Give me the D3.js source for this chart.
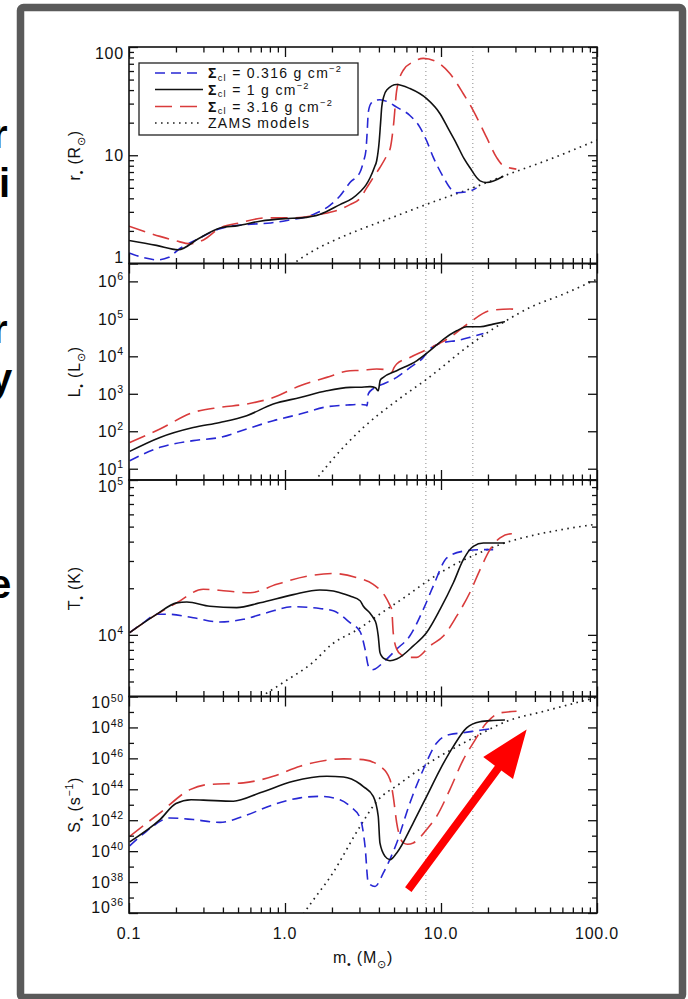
<!DOCTYPE html>
<html>
<head>
<meta charset="utf-8">
<title>Protostellar evolution</title>
<script src="https://cdn.jsdelivr.net/npm/d3@7/dist/d3.min.js"></script>
<style>
  body { margin: 0; background: #fff; }
  svg { display: block; }
  text { font-family: "Liberation Sans", Arial, Helvetica, sans-serif; white-space: pre; }
</style>
</head>
<body>
<script>
// x axis: protostellar mass (M_sun)
const massDomain = [0.1, 100];
const massTicks = [0.1, 1, 10, 100];
const massTickLabels = ["0.1", "1.0", "10.0", "100.0"];
const markerMasses = [8, 16];

// legend
const sigmaLabels = ["0.316", "1", "3.16"];
const zamsLabel = "ZAMS models";

// panel 1: radius (R_sun)
const rDomain = [1, 100];
const rTicks = [1, 10, 100];
const rTickLabels = ["1", "10", "100"];
const rLowM  = [0.1, 0.125, 0.151, 0.18, 0.207, 0.28, 0.383, 0.569, 0.81, 1.03, 1.52, 1.94, 2.25, 2.61, 3.03, 3.2, 3.3, 3.36, 3.42, 3.55, 3.78, 4.06, 4.59, 5.2, 6.32, 7.33, 8.09, 8.93, 10.4, 11.4, 12.6, 15.3, 16.9];
const rLowV  = [1.25, 1.13, 1.08, 1.14, 1.34, 1.7, 2.1, 2.29, 2.37, 2.5, 2.84, 3.45, 4.2, 5.6, 7.0, 9.0, 11.0, 16.0, 25.0, 30.0, 32.1, 32.6, 31.0, 27.8, 23.3, 18.1, 13.6, 9.55, 6.22, 5.0, 4.51, 4.67, 5.0];
const rMidM  = [0.1, 0.15, 0.207, 0.28, 0.383, 0.5, 0.69, 1.0, 1.27, 1.67, 2.25, 2.7, 3.03, 3.3, 3.51, 3.75, 3.87, 4.02, 4.1, 4.17, 4.3, 4.49, 5.2, 6.32, 8.09, 9.86, 11.2, 12.6, 14.0, 15.3, 17.8, 19.6, 25.1];
const rMidV  = [1.63, 1.47, 1.34, 1.7, 2.13, 2.24, 2.46, 2.6, 2.64, 2.84, 3.5, 4.0, 4.6, 5.3, 6.2, 7.8, 8.9, 13.6, 20, 27.9, 35, 40, 45, 41.3, 33.3, 24.2, 17.3, 12.7, 9.4, 7.7, 5.8, 5.6, 6.4];
const rHighM = [0.1, 0.158, 0.2, 0.246, 0.3, 0.383, 0.51, 0.76, 1.13, 1.67, 2.25, 2.61, 3.03, 3.34, 3.7, 4.06, 4.5, 4.74, 4.97, 5.2, 5.73, 6.65, 7.7, 9.34, 11.4, 13.9, 16.1, 19.6, 22.7, 25.1, 30.4];
const rHighV = [2.21, 1.78, 1.62, 1.52, 1.65, 2.13, 2.37, 2.64, 2.64, 2.84, 3.16, 3.5, 4.0, 5.0, 6.3, 7.7, 10, 11.8, 19.5, 39.8, 61, 73, 78.5, 73, 56.9, 37, 25.9, 14.6, 9.55, 8.0, 7.45];
const rZamsM = [1.1, 1.5, 2, 3, 5, 8, 16, 25, 50, 100];
const rZamsV = [0.97, 1.3, 1.6, 2.05, 2.7, 3.5, 5.0, 6.4, 9.2, 13.8];

// panel 2: luminosity (L_sun)
const lDomain = [5, 3e6];
const lTicks = [1e1, 1e2, 1e3, 1e4, 1e5, 1e6];
const lTickLabels = ["10^1", "10^2", "10^3", "10^4", "10^5", "10^6"];
const lLowM  = [0.101, 0.158, 0.258, 0.383, 0.568, 0.841, 1.25, 1.85, 2.5, 3.03, 3.3, 3.36, 3.42, 3.7, 4.27, 5.2, 6.32, 7.7, 8.49, 10.4, 12.6, 15.3, 18.7];
const lLowV  = [16.4, 37.2, 56.2, 68.5, 115, 191, 288, 450, 500, 520, 501, 480, 1000, 1400, 1820, 2740, 5010, 9330, 15700, 23400, 26300, 32000, 40700];
const lMidM  = [0.101, 0.158, 0.258, 0.383, 0.568, 0.841, 1.25, 1.85, 2.61, 3.03, 3.51, 3.8, 3.96, 4.08, 4.27, 5.2, 6.98, 8.49, 10.4, 12.6, 14.6, 17.8, 21.6, 25.7];
const lMidV  = [29, 68.5, 126, 172, 260, 533, 794, 1200, 1480, 1500, 1550, 1450, 1200, 2300, 2740, 4130, 7590, 14100, 28800, 47900, 61700, 61700, 72400, 84100];
const lHighM = [0.101, 0.158, 0.258, 0.383, 0.568, 0.841, 1.25, 1.85, 2.61, 3.03, 3.87, 4.5, 4.83, 5.0, 5.2, 6.32, 8.49, 11.4, 15.3, 20.6, 27.7, 32.1];
const lHighV = [50, 115, 318, 434, 533, 794, 1640, 2740, 4130, 4200, 4570, 4370, 3720, 5000, 6240, 9330, 16600, 32000, 80500, 165000, 183000, 172000];
const lZamsM = [1.55, 1.94, 3.18, 5.2, 8.09, 16.1, 25.1, 37.3, 61, 100];
const lZamsV = [4.6, 14.7, 126, 653, 2450, 23400, 80500, 202000, 457000, 1150000];

// panel 3: effective temperature (K)
const tDomain = [4000, 1e5];
const tTicks = [1e4, 1e5];
const tTickLabels = ["10^4", "10^5"];
const tLowM  = [0.101, 0.124, 0.151, 0.175, 0.258, 0.383, 0.541, 0.764, 1.13, 1.67, 2.04, 2.61, 3.03, 3.26, 3.42, 3.6, 3.78, 4.27, 5.2, 6.32, 7.7, 8.93, 10.9, 13.9, 17.8, 21.6];
const tLowV  = [10350, 12000, 13600, 13600, 12900, 12100, 12600, 13900, 15200, 14800, 14300, 12000, 10500, 8090, 6310, 5950, 6030, 6650, 8090, 9860, 14600, 20700, 31400, 34700, 35500, 35500];
const tMidM  = [0.101, 0.151, 0.202, 0.235, 0.33, 0.49, 0.692, 1.13, 1.67, 2.04, 2.25, 2.61, 3.03, 3.18, 3.51, 3.68, 3.85, 3.96, 4.06, 4.2, 4.38, 4.71, 5.2, 6.64, 8.09, 9.86, 12.0, 13.9, 16.1, 18.7, 22.7, 25.7];
const tMidV  = [10350, 13600, 16100, 16300, 15300, 15000, 16100, 18200, 19500, 19200, 18700, 17800, 16600, 15300, 13800, 12900, 11700, 9860, 7710, 7200, 6980, 6810, 6980, 8490, 10350, 14600, 21700, 30600, 37300, 39200, 39200, 39200];
const tHighM = [0.101, 0.151, 0.202, 0.299, 0.423, 0.597, 0.885, 1.38, 2.04, 2.88, 3.68, 4.38, 4.71, 4.83, 4.94, 5.2, 5.6, 6.02, 6.98, 8.49, 10.4, 12.6, 15.3, 17.8, 20.6, 23.9, 28.4, 30.5];
const tHighV = [10350, 13600, 16100, 19700, 19200, 18700, 21200, 23900, 24900, 23400, 21200, 17800, 15500, 14600, 10350, 8090, 7400, 7160, 7160, 8490, 9860, 13200, 18700, 26400, 35500, 42300, 45000, 44400];
const tZamsM = [0.7, 1.0, 1.5, 2.0, 3.0, 4.0, 6.0, 8.0, 12, 16, 25, 40, 60, 100];
const tZamsV = [3980, 5010, 6610, 8700, 11000, 13500, 17800, 21900, 28200, 32400, 38900, 44200, 47900, 51900];

// panel 4: ionizing photon rate (s^-1)
const sDomain = [1e36, 1e50];
const sTicks = [1e36, 1e38, 1e40, 1e42, 1e44, 1e46, 1e48, 1e50];
const sTickLabels = ["10^36", "10^38", "10^40", "10^42", "10^44", "10^46", "10^48", "10^50"];
const sMinorTicks = [1e37, 1e39, 1e41, 1e43, 1e45, 1e47, 1e49];
const sLowM  = [0.101, 0.13, 0.183, 0.258, 0.383, 0.541, 0.841, 1.25, 1.67, 2.25, 2.61, 3.03, 3.26, 3.42, 3.78, 4.27, 5.2, 6.32, 7.7, 9.38, 11.4, 13.9, 17.8, 20.6];
const sLowV  = [2.2e40, 2.0e41, 1.4e42, 1.1e42, 7.2e41, 1.8e42, 1.0e43, 2.8e43, 3.5e43, 2.1e43, 8.0e42, 1.4e42, 2.0e40, 8.7e37, 5.2e37, 3.9e38, 3.4e40, 1.3e43, 1.9e45, 1.0e47, 3.5e47, 4.5e47, 6.6e47, 8.1e47];
const sMidM  = [0.101, 0.158, 0.2, 0.25, 0.3, 0.467, 0.692, 1.13, 1.85, 2.37, 3.03, 3.18, 3.68, 3.96, 4.06, 4.38, 4.71, 5.2, 6.64, 8.09, 9.86, 12.0, 14.6, 17.8, 21.6, 25.7];
const sMidV  = [4.0e40, 1.1e42, 1.2e43, 2.1e43, 2.0e43, 1.7e43, 5.9e43, 3.3e44, 6.9e44, 6.3e44, 2.2e44, 1.5e44, 3.5e43, 1.8e42, 3.4e40, 4.6e39, 2.8e39, 7.6e39, 6.8e41, 3.5e43, 1.9e45, 6.0e46, 9.3e47, 2.3e48, 2.8e48, 3.0e48];
const sHighM = [0.101, 0.158, 0.246, 0.315, 0.541, 0.841, 1.25, 1.85, 2.37, 3.18, 4.06, 4.71, 4.94, 5.2, 5.73, 6.1, 6.64, 8.09, 9.38, 11.4, 13.9, 16.1, 19.6, 23.9, 30.5];
const sHighV = [9.1e40, 3.0e42, 9.5e43, 2.0e44, 2.6e44, 6.9e44, 3.1e45, 7.6e45, 9.3e45, 8.3e45, 3.1e45, 4.3e44, 3.5e43, 6.8e41, 3.4e40, 2.8e40, 3.4e40, 2.5e41, 1.8e42, 9.5e43, 8.3e45, 1.0e47, 2.0e48, 8.7e48, 1.1e49];
const sZamsM = [1.25, 1.35, 2.03, 3.03, 3.87, 5.5, 8.09, 16.1, 26.4, 45.6, 100];
const sZamsV = [4e35, 1.3e36, 4e38, 4e41, 1.6e43, 2.5e44, 4e45, 2.1e47, 2.5e48, 1.1e49, 8.9e49];

// red annotation arrow, in (mass, S) units
const arrowFrom = [6.17, 3.2e37];
const arrowTo = [35.4, 7.4e47];

const W = 688, H = 999;
const plot = {left: 129, right: 597, top: 47, bottom: 913};
const panelH = (plot.bottom - plot.top) / 4;

const styles = {
  low:  {color: "#2727d4", dash: "10,6"},
  mid:  {color: "#111", dash: null},
  high: {color: "#d93b3b", dash: "17,8"},
  zams: {color: "#222", dash: "1.6,4.4"}
};

const panels = [
  {domain: rDomain, major: rTicks, labels: rTickLabels, minor: decadeMinors(rDomain),
   title: [{t: "r"}, {t: "•", sub: 1}, {t: " (R"}, {t: "⊙", sub: 1}, {t: ")"}],
   series: [["zams", rZamsM, rZamsV], ["low", rLowM, rLowV], ["high", rHighM, rHighV], ["mid", rMidM, rMidV]]},
  {domain: lDomain, major: lTicks, labels: lTickLabels, minor: [],
   title: [{t: "L"}, {t: "•", sub: 1}, {t: " (L"}, {t: "⊙", sub: 1}, {t: ")"}],
   series: [["zams", lZamsM, lZamsV], ["low", lLowM, lLowV], ["high", lHighM, lHighV], ["mid", lMidM, lMidV]]},
  {domain: tDomain, major: tTicks, labels: tTickLabels, minor: decadeMinors(tDomain),
   title: [{t: "T"}, {t: "•", sub: 1}, {t: " (K)"}],
   series: [["zams", tZamsM, tZamsV], ["low", tLowM, tLowV], ["high", tHighM, tHighV], ["mid", tMidM, tMidV]]},
  {domain: sDomain, major: sTicks, labels: sTickLabels, minor: sMinorTicks,
   title: [{t: "S"}, {t: "•", sub: 1}, {t: " (s"}, {t: "−1", sup: 1}, {t: ")"}],
   series: [["zams", sZamsM, sZamsV], ["low", sLowM, sLowV], ["high", sHighM, sHighV], ["mid", sMidM, sMidV]]}
];

let svg = null;
let x = null;

setupSvg();
setupXScale();
appendFrame();
appendSideText();
appendMarkers();
panels.forEach(appendPanel);
appendXLabels();
appendLegend();
appendArrow();

// 2..9 minor ticks for each decade inside a domain
function decadeMinors(domain) {
  const out = [];
  for (let e = Math.floor(Math.log10(domain[0])); e < Math.log10(domain[1]); e++) {
    for (let k = 2; k <= 9; k++) {
      const v = k * Math.pow(10, e);
      if (v > domain[0] && v < domain[1]) out.push(v);
    }
  }
  return out;
}

// text with sub / superscript pieces
function richText(sel, parts, size, subShift) {
  const sub = subShift || 0.3;
  let shift = 0;
  parts.forEach(p => {
    const target = p.sub ? size * sub : p.sup ? -size * 0.42 : 0;
    sel.append("tspan")
      .attr("dy", target - shift)
      .style("font-size", (p.sub || p.sup) ? size * 0.66 + "px" : size + "px")
      .style("font-weight", p.bold ? "bold" : null)
      .text(p.t);
    shift = target;
  });
}

function powerParts(label) {
  const bits = label.split("^");
  return bits.length > 1 ? [{t: bits[0]}, {t: bits[1], sup: 1}] : [{t: label}];
}

function setupSvg() {
  svg = d3.select("body").append("svg")
    .attr("width", W)
    .attr("height", H);
}

function setupXScale() {
  x = d3.scaleLog().domain(massDomain).range([plot.left, plot.right]);
}

function appendFrame() {
  svg.append("rect")
    .attr("x", 20.5).attr("y", 7.5)
    .attr("width", 662).attr("height", 990)
    .attr("rx", 3)
    .attr("fill", "none")
    .attr("stroke", "#5a5a5a")
    .attr("stroke-width", 7.5);
}

// cut-off words of the slide behind the figure
function appendSideText() {
  const g = svg.append("g")
    .style("font-family", "'Liberation Sans', Arial, sans-serif")
    .style("font-weight", "bold")
    .style("font-size", "40px")
    .attr("fill", "#000");
  [["r", -8, 148], ["i", -1, 197], ["r", -8, 343], ["y", -10, 392], ["e", -11, 598]].forEach(d => {
    g.append("text").attr("x", d[1]).attr("y", d[2]).text(d[0]);
  });
}

function appendMarkers() {
  svg.append("g").selectAll("line")
    .data(markerMasses)
    .enter()
    .append("line")
      .attr("x1", d => x(d)).attr("x2", d => x(d))
      .attr("y1", plot.top).attr("y2", plot.bottom)
      .attr("stroke", "#8a8a8a")
      .attr("stroke-width", 1)
      .attr("stroke-dasharray", "1,3");
}

function appendPanel(p, i) {
  const top = plot.top + i * panelH;
  const bottom = top + panelH;
  const y = d3.scaleLog().domain(p.domain).range([bottom, top]);
  p.y = y;

  svg.append("clipPath").attr("id", "clip" + i)
    .append("rect")
      .attr("x", plot.left).attr("y", top)
      .attr("width", plot.right - plot.left).attr("height", panelH);

  const line = d3.line()
    .x(d => x(d[0]))
    .y(d => y(d[1]))
    .curve(d3.curveMonotoneX);

  svg.append("g")
    .attr("clip-path", `url(#clip${i})`)
    .selectAll("path")
    .data(p.series)
    .enter()
    .append("path")
      .attr("d", d => line(d3.zip(d[1], d[2])))
      .attr("fill", "none")
      .attr("stroke", d => styles[d[0]].color)
      .attr("stroke-width", d => d[0] === "zams" ? 1.7 : 1.6)
      .attr("stroke-dasharray", d => styles[d[0]].dash);

  // ticks, all pointing inward
  const massMinors = decadeMinors(massDomain);
  const tickGroups = [
    [d3.axisBottom(x).tickValues(massTicks).tickSize(-10), 0, bottom],
    [d3.axisBottom(x).tickValues(massMinors).tickSize(-5.5), 0, bottom],
    [d3.axisTop(x).tickValues(massTicks).tickSize(-10), 0, top],
    [d3.axisTop(x).tickValues(massMinors).tickSize(-5.5), 0, top],
    [d3.axisLeft(y).tickValues(p.major).tickSize(-9), plot.left, 0],
    [d3.axisLeft(y).tickValues(p.minor).tickSize(-5), plot.left, 0],
    [d3.axisRight(y).tickValues(p.major).tickSize(-9), plot.right, 0],
    [d3.axisRight(y).tickValues(p.minor).tickSize(-5), plot.right, 0]
  ];
  tickGroups.forEach(t => {
    svg.append("g")
      .attr("transform", `translate(${t[1]}, ${t[2]})`)
      .call(t[0].tickFormat(""))
      .call(g => g.select(".domain").remove())
      .call(g => g.selectAll("line").attr("stroke", "#111").attr("stroke-width", 1.3));
  });

  svg.append("rect")
    .attr("x", plot.left).attr("y", top)
    .attr("width", plot.right - plot.left).attr("height", panelH)
    .attr("fill", "none")
    .attr("stroke", "#111")
    .attr("stroke-width", 1.6);

  // tick labels, end labels nudged inside the panel
  p.major.forEach((v, k) => {
    let ty = y(v);
    let shift = 0;
    if (Math.abs(ty - top) < 2) shift = 6;
    if (Math.abs(ty - bottom) < 2) shift = -6;
    const t = svg.append("text")
      .attr("x", 124)
      .attr("y", ty + 5.8 + shift)
      .attr("text-anchor", "end")
      .attr("fill", "#111")
      .style("letter-spacing", "0.8px");
    richText(t, powerParts(p.labels[k]), 16);
  });

  const title = svg.append("text")
    .attr("transform", `translate(80, ${(top + bottom) / 2}) rotate(-90)`)
    .attr("text-anchor", "middle")
    .attr("fill", "#111")
    .style("letter-spacing", "0.8px");
  richText(title, p.title, 16);
}

function appendXLabels() {
  svg.append("g").selectAll("text")
    .data(massTicks)
    .enter()
    .append("text")
      .attr("x", d => x(d))
      .attr("y", 939)
      .attr("text-anchor", "middle")
      .attr("fill", "#111")
      .style("font-size", "16px")
      .style("letter-spacing", "0.8px")
      .text((d, i) => massTickLabels[i]);

  const t = svg.append("text")
    .attr("x", (plot.left + plot.right) / 2)
    .attr("y", 963)
    .attr("text-anchor", "middle")
    .attr("fill", "#111")
    .style("letter-spacing", "0.8px");
  richText(t, [{t: "m"}, {t: "•", sub: 1}, {t: " (M"}, {t: "⊙", sub: 1}, {t: ")"}], 16);
}

function appendLegend() {
  const g = svg.append("g").attr("class", "legend");
  g.append("rect")
    .attr("x", 139).attr("y", 63)
    .attr("width", 219).attr("height", 72)
    .attr("fill", "#fff")
    .attr("stroke", "#222")
    .attr("stroke-width", 1.3);

  const items = [
    ["low", sigmaParts(sigmaLabels[0])],
    ["mid", sigmaParts(sigmaLabels[1])],
    ["high", sigmaParts(sigmaLabels[2])],
    ["zams", [{t: zamsLabel}]]
  ];
  const rowY = [73, 89.5, 106.5, 123];
  items.forEach((it, i) => {
    g.append("line")
      .attr("x1", 155).attr("x2", 203)
      .attr("y1", rowY[i]).attr("y2", rowY[i])
      .attr("stroke", styles[it[0]].color)
      .attr("stroke-width", 1.6)
      .attr("stroke-dasharray", styles[it[0]].dash);
    const t = g.append("text")
      .attr("x", 208)
      .attr("y", rowY[i] + 5)
      .attr("fill", "#111")
      .style("letter-spacing", "1.3px");
    richText(t, it[1], 14, 0.18);
  });
}

function sigmaParts(val) {
  return [{t: "Σ", bold: 1}, {t: "cl", sub: 1}, {t: " = " + val + " g cm"}, {t: "−2", sup: 1}];
}

function appendArrow() {
  const yS = panels[3].y;
  const p0 = [x(arrowFrom[0]), yS(arrowFrom[1])];
  const p1 = [x(arrowTo[0]), yS(arrowTo[1])];
  const len = Math.hypot(p1[0] - p0[0], p1[1] - p0[1]);
  const u = [(p1[0] - p0[0]) / len, (p1[1] - p0[1]) / len];
  const n = [-u[1], u[0]];
  const headLen = 48, headHalf = 18.5, shaftHalf = 4;
  const b = [p1[0] - u[0] * headLen, p1[1] - u[1] * headLen];
  const pt = (c, s) => [c[0] + n[0] * s, c[1] + n[1] * s];
  const pts = [pt(p0, shaftHalf), pt(b, shaftHalf), pt(b, headHalf), p1, pt(b, -headHalf), pt(b, -shaftHalf), pt(p0, -shaftHalf)];
  svg.append("path")
    .attr("d", "M" + pts.map(q => q.join(",")).join("L") + "Z")
    .attr("fill", "#ff0000");
}
</script>
</body>
</html>
